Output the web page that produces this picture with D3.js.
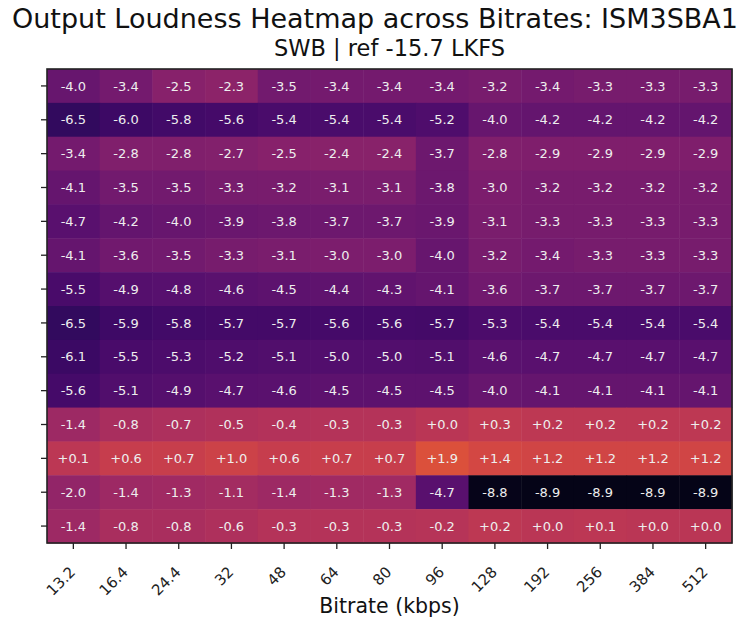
<!DOCTYPE html>
<html><head><meta charset="utf-8">
<script src="https://cdn.jsdelivr.net/npm/d3@7"></script>
<style>body{margin:0;background:#fff;font-family:"DejaVu Sans",sans-serif}</style>
</head><body><svg id="c" width="740" height="621"></svg>
<script>
const bitrates = ["13.2","16.4","24.4","32","48","64","80","96","128","192","256","384","512"];
const rowIds = ["r1","r2","r3","r4","r5","r6","r7","r8","r9","r10","r11","r12","r13","r14"];
const values = [
[-4.0,-3.4,-2.5,-2.3,-3.5,-3.4,-3.4,-3.4,-3.2,-3.4,-3.3,-3.3,-3.3],
[-6.5,-6.0,-5.8,-5.6,-5.4,-5.4,-5.4,-5.2,-4.0,-4.2,-4.2,-4.2,-4.2],
[-3.4,-2.8,-2.8,-2.7,-2.5,-2.4,-2.4,-3.7,-2.8,-2.9,-2.9,-2.9,-2.9],
[-4.1,-3.5,-3.5,-3.3,-3.2,-3.1,-3.1,-3.8,-3.0,-3.2,-3.2,-3.2,-3.2],
[-4.7,-4.2,-4.0,-3.9,-3.8,-3.7,-3.7,-3.9,-3.1,-3.3,-3.3,-3.3,-3.3],
[-4.1,-3.6,-3.5,-3.3,-3.1,-3.0,-3.0,-4.0,-3.2,-3.4,-3.3,-3.3,-3.3],
[-5.5,-4.9,-4.8,-4.6,-4.5,-4.4,-4.3,-4.1,-3.6,-3.7,-3.7,-3.7,-3.7],
[-6.5,-5.9,-5.8,-5.7,-5.7,-5.6,-5.6,-5.7,-5.3,-5.4,-5.4,-5.4,-5.4],
[-6.1,-5.5,-5.3,-5.2,-5.1,-5.0,-5.0,-5.1,-4.6,-4.7,-4.7,-4.7,-4.7],
[-5.6,-5.1,-4.9,-4.7,-4.6,-4.5,-4.5,-4.5,-4.0,-4.1,-4.1,-4.1,-4.1],
[-1.4,-0.8,-0.7,-0.5,-0.4,-0.3,-0.3,0.0,0.3,0.2,0.2,0.2,0.2],
[0.1,0.6,0.7,1.0,0.6,0.7,0.7,1.9,1.4,1.2,1.2,1.2,1.2],
[-2.0,-1.4,-1.3,-1.1,-1.4,-1.3,-1.3,-4.7,-8.8,-8.9,-8.9,-8.9,-8.9],
[-1.4,-0.8,-0.8,-0.6,-0.3,-0.3,-0.3,-0.2,0.2,0.0,0.1,0.0,0.0]
];
const colorDomain = [-9.7, 9.8];

const svg = d3.select("#c");
const m = {l:47, r:732, t:69, b:543};
const x = d3.scaleBand().domain(bitrates).range([m.l, m.r]);
const y = d3.scaleBand().domain(rowIds).range([m.t, m.b]);
const color = d3.scaleSequential(d3.interpolateInferno).domain(colorDomain);

const cells = [];
values.forEach((row,i)=>row.forEach((v,j)=>cells.push({r:rowIds[i], c:bitrates[j], v})));

svg.append("g").selectAll("rect").data(cells).join("rect")
  .attr("x", d=>x(d.c)).attr("y", d=>y(d.r))
  .attr("width", x.bandwidth()+0.5).attr("height", y.bandwidth()+0.5)
  .attr("fill", d=>color(d.v));

const fmt = v => (v >= 0 ? "+" : "") + v.toFixed(1);
svg.append("g").selectAll("text").data(cells).join("text")
  .attr("x", d=>x(d.c)+x.bandwidth()/2).attr("y", d=>y(d.r)+y.bandwidth()/2)
  .attr("dy","0.36em").attr("text-anchor","middle")
  .attr("font-size", 13).attr("fill","#eeeeee")
  .text(d=>fmt(d.v));

svg.append("rect").attr("x", m.l).attr("y", m.t).attr("width", m.r-m.l).attr("height", m.b-m.t)
  .attr("fill","none").attr("stroke","#222").attr("stroke-width",1.6);

const xa = svg.append("g").attr("transform",`translate(0,${m.b})`)
  .call(d3.axisBottom(x).tickSize(6).tickPadding(4));
xa.select(".domain").remove();
xa.selectAll("line").attr("stroke","#222").attr("stroke-width",1.3);
xa.selectAll("text").attr("font-size",15).attr("fill","#222")
  .attr("font-family","DejaVu Sans")
  .attr("text-anchor","end").attr("x",0).attr("y",0).attr("dy",0)
  .attr("transform","translate(3,30) rotate(-45)");

const ya = svg.append("g").attr("transform",`translate(${m.l},0)`)
  .call(d3.axisLeft(y).tickSize(6).tickFormat(""));
ya.select(".domain").remove();
ya.selectAll("line").attr("stroke","#222").attr("stroke-width",1.3);

svg.append("text").attr("x", 375).attr("y", 28).attr("text-anchor","middle")
  .attr("font-size",27).attr("fill","#111").text("Output Loudness Heatmap across Bitrates: ISM3SBA1");
svg.append("text").attr("x", (m.l+m.r)/2).attr("y", 56).attr("text-anchor","middle")
  .attr("font-size",22.5).attr("fill","#111").text("SWB | ref -15.7 LKFS");
svg.append("text").attr("x", (m.l+m.r)/2).attr("y", 613).attr("text-anchor","middle")
  .attr("font-size",20.5).attr("fill","#111").text("Bitrate (kbps)");
</script></body></html>
